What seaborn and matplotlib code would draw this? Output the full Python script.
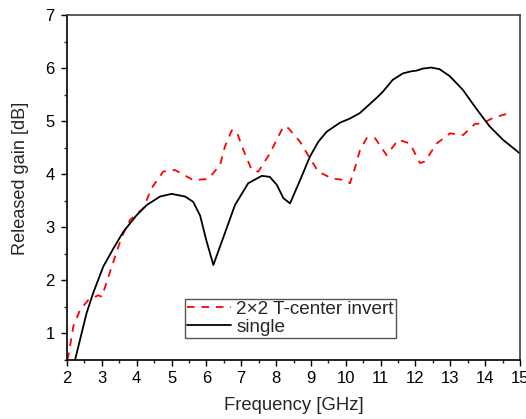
import numpy as np
import pandas as pd
import matplotlib
matplotlib.use("Agg")
import matplotlib.pyplot as plt
import seaborn as sns
from matplotlib.ticker import MultipleLocator

# Data
single_x = [2.15, 2.23, 2.56, 2.75, 3.04, 3.33, 3.62, 4.0, 4.29, 4.67, 5.0, 5.39, 5.62,
            5.82, 6.0, 6.2, 6.53, 6.82, 7.2, 7.59, 7.82, 8.02, 8.21, 8.40, 8.69, 8.97,
            9.21, 9.45, 9.83, 10.12, 10.40, 10.92, 11.07, 11.35, 11.64, 11.88, 12.02,
            12.21, 12.45, 12.69, 12.98, 13.36, 13.74, 14.13, 14.51, 15.0]
single_y = [0.3, 0.5, 1.38, 1.76, 2.26, 2.60, 2.92, 3.23, 3.42, 3.58, 3.63, 3.58, 3.48,
            3.22, 2.75, 2.29, 2.89, 3.42, 3.83, 3.97, 3.95, 3.80, 3.55, 3.45, 3.89, 4.33,
            4.61, 4.80, 4.97, 5.05, 5.15, 5.46, 5.56, 5.78, 5.90, 5.94, 5.95,
            5.99, 6.01, 5.98, 5.85, 5.59, 5.24, 4.90, 4.65, 4.39]

invert_x = [2.0, 2.04, 2.18, 2.37, 2.61, 2.90, 3.0, 3.19, 3.38, 3.57, 3.81, 4.19, 4.43,
            4.76, 5.10, 5.62, 6.05, 6.39, 6.53, 6.73, 6.87, 7.06, 7.30, 7.49, 7.82,
            8.21, 8.35, 8.69, 8.97, 9.21, 9.60, 9.98, 10.12, 10.26, 10.41, 10.6, 10.84,
            11.17, 11.51, 11.84, 12.13, 12.27, 12.61, 12.99, 13.37, 13.71, 13.90, 14.19,
            14.57, 14.75]
invert_y = [0.5, 0.58, 1.13, 1.44, 1.63, 1.72, 1.69, 2.07, 2.45, 2.82, 3.14, 3.36, 3.74,
            4.05, 4.08, 3.89, 3.91, 4.17, 4.52, 4.83, 4.80, 4.46, 4.08, 4.05, 4.39,
            4.90, 4.87, 4.61, 4.30, 4.05, 3.92, 3.89, 3.83, 4.11, 4.46, 4.68, 4.68,
            4.36, 4.65, 4.58, 4.21, 4.24, 4.58, 4.77, 4.74, 4.95, 4.95, 5.05,
            5.13, 5.10]

labels = ["2\u00d72 T-center invert", "single"]

df = pd.concat([
    pd.DataFrame({"f": invert_x, "g": invert_y, "s": labels[0]}),
    pd.DataFrame({"f": single_x, "g": single_y, "s": labels[1]}),
], ignore_index=True)

sns.set_style("ticks")
plt.rcParams["font.family"] = ["Liberation Sans", "DejaVu Sans"]

fig = plt.figure(figsize=(5.26, 4.19), dpi=100)
ax = fig.add_axes([0.1274, 0.1408, 0.8612, 0.8234])

sns.lineplot(data=df, x="f", y="g", hue="s", style="s",
             palette={labels[0]: "#ff0000", labels[1]: "#000000"},
             dashes={labels[0]: (4.2, 3.8), labels[1]: ""},
             linewidth=1.3, ax=ax, sort=False, estimator=None)

ax.set_xlim(2, 15)
ax.set_ylim(0.5, 7)
ax.xaxis.set_major_locator(MultipleLocator(1))
ax.xaxis.set_minor_locator(MultipleLocator(0.5))
ax.yaxis.set_major_locator(MultipleLocator(1))
ax.yaxis.set_minor_locator(MultipleLocator(0.5))
ax.set_yticks([1, 2, 3, 4, 5, 6, 7])
ax.tick_params(which="major", direction="out", length=4, width=1, labelsize=12, colors="black")
ax.tick_params(axis="x", which="major", pad=4)
ax.tick_params(axis="y", which="major", pad=5)
ax.tick_params(which="minor", direction="out", length=2, width=1)
ax.tick_params(top=False, right=False, which="both")

for s in ["left", "bottom"]:
    ax.spines[s].set_color("black")
    ax.spines[s].set_linewidth(1.2)
for s in ["top", "right"]:
    ax.spines[s].set_visible(True)
    ax.spines[s].set_color("#404040")
    ax.spines[s].set_linewidth(1.2)

ax.set_xlabel("Frequency [GHz]", fontsize=13.3)
ax.set_ylabel("Released gain [dB]", fontsize=13.1)
ax.xaxis.set_label_coords(0.5, -0.108)
ax.yaxis.set_label_coords(-0.084, 0.527)

leg = ax.legend(loc="lower left", bbox_to_anchor=(0.26, 0.064), frameon=True,
                fancybox=False, framealpha=1, edgecolor="#555555", fontsize=13.6,
                handlelength=2.3, handletextpad=0.3, borderpad=0.12,
                labelspacing=0.02, borderaxespad=0)
leg.get_frame().set_linewidth(1.0)

fig.savefig("out.png", dpi=100)
